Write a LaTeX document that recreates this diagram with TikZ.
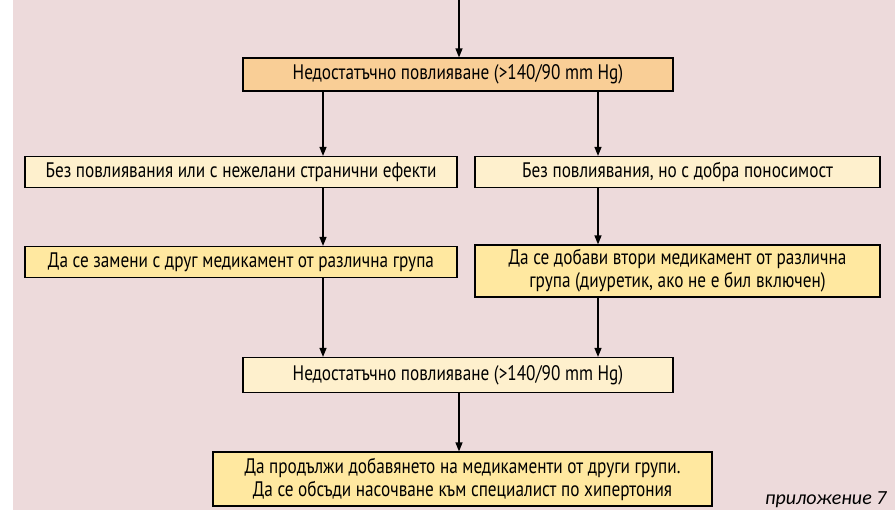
\documentclass[tikz,border=0pt]{standalone}
\usepackage{fontspec}
\setmainfont[FakeStretch=0.82]{PT Sans}
\newfontfamily\notefont{Carlito}
\usetikzlibrary{arrows.meta}
\definecolor{bgpink}{HTML}{EDDADB}
\definecolor{peach}{HTML}{F9CE96}
\definecolor{cream}{HTML}{FEF0CD}
\definecolor{yel}{HTML}{FFE8A0}
\tikzset{
  box/.style={draw=black, line width=1.2pt, inner sep=0pt, align=center, font=\fontsize{21}{23}\selectfont},
  arr/.style={line width=1.2pt, -{Triangle[length=9pt,width=7pt]}},
}
\begin{document}
\begin{tikzpicture}[x=1pt,y=-1pt]
\useasboundingbox (0,0) rectangle (895,520);
\fill[bgpink] (13,0) rectangle (895,510);
\coordinate (xl) at (323,0);
\coordinate (xm) at (459,0);
\coordinate (xr) at (598,0);
\node[box, fill=peach, minimum width=430pt, minimum height=33pt] (n1) at (458,74.5) {Недостатъчно повлияване (>140/90 mm Hg)};
\node[box, fill=cream, minimum width=432pt, minimum height=31pt] (n2l) at (241,172) {Без повлиявания или с нежелани странични ефекти};
\node[box, fill=cream, minimum width=405pt, minimum height=31pt] (n2r) at (677.5,172) {Без повлиявания, но с добра поносимост};
\node[box, fill=yel, minimum width=432pt, minimum height=31pt] (n3l) at (241,262) {Да се замени с друг медикамент от различна група};
\node[box, fill=yel, minimum width=405pt, minimum height=52pt] (n3r) at (677.5,271) {Да се добави втори медикамент от различна\\група (диуретик, ако не е бил включен)};
\node[box, fill=cream, minimum width=430pt, minimum height=35pt] (n4) at (458,375) {Недостатъчно повлияване (>140/90 mm Hg)};
\node[box, fill=yel, minimum width=499pt, minimum height=54pt] (n5) at (462.5,479) {Да продължи добавянето на медикаменти от други групи.\\Да се обсъди насочване към специалист по хипертония};
\node[anchor=base east, font=\notefont\itshape\fontsize{20}{24}\selectfont] (note) at (890,504) {приложение 7};
\draw[arr] (xm) -- (n1.north -| xm);
\draw[arr] (n1.south -| xl) -- (n2l.north -| xl);
\draw[arr] (n1.south -| xr) -- (n2r.north -| xr);
\draw[arr] (n2l.south -| xl) -- (n3l.north -| xl);
\draw[arr] (n2r.south -| xr) -- (n3r.north -| xr);
\draw[arr] (n3l.south -| xl) -- (n4.north -| xl);
\draw[arr] (n3r.south -| xr) -- (n4.north -| xr);
\draw[arr] (n4.south -| xm) -- (n5.north -| xm);
\end{tikzpicture}
\end{document}
